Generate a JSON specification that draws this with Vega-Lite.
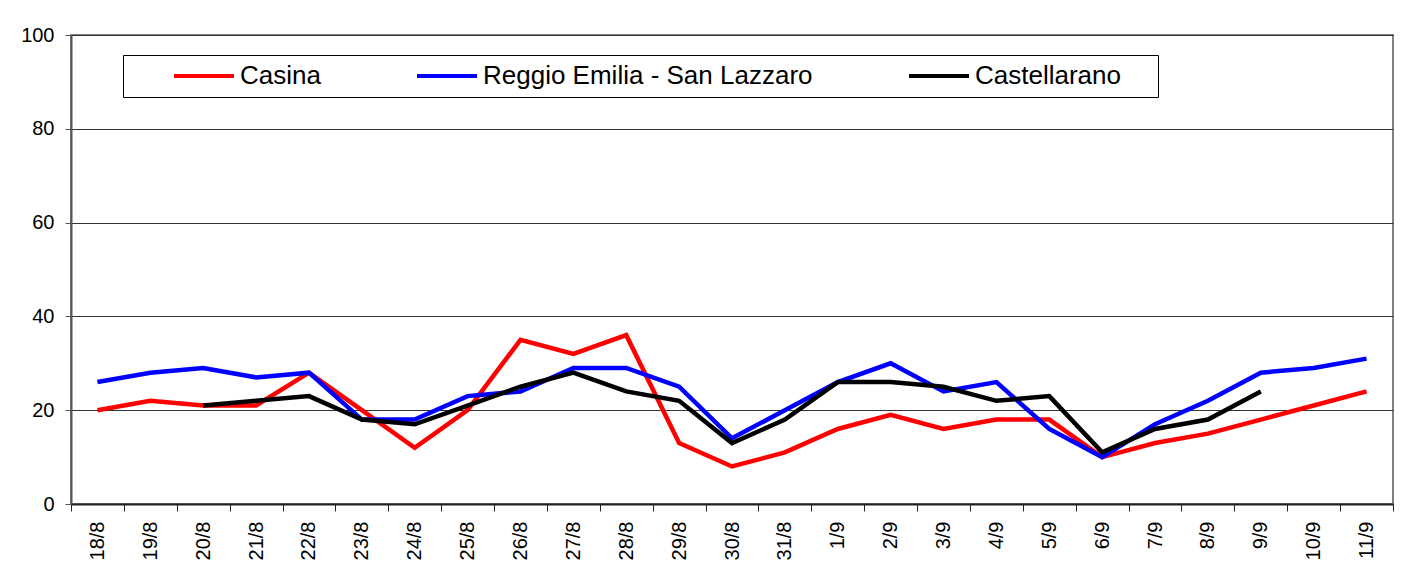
{
  "$schema": "https://vega.github.io/schema/vega-lite/v6.json",
  "autosize": "none",
  "padding": {"left": 71, "top": 35, "right": 17, "bottom": 71},
  "width": 1322,
  "height": 469,
  "background": "white",
  "config": {
    "font": "Liberation Sans",
    "view": {"stroke": "#808080", "strokeWidth": 2}
  },
  "data": {
    "values": [
      {"d": "18/8", "s": "Casina", "v": 20}, {"d": "19/8", "s": "Casina", "v": 22}, {"d": "20/8", "s": "Casina", "v": 21}, {"d": "21/8", "s": "Casina", "v": 21}, {"d": "22/8", "s": "Casina", "v": 28}, {"d": "23/8", "s": "Casina", "v": 20}, {"d": "24/8", "s": "Casina", "v": 12}, {"d": "25/8", "s": "Casina", "v": 20}, {"d": "26/8", "s": "Casina", "v": 35}, {"d": "27/8", "s": "Casina", "v": 32}, {"d": "28/8", "s": "Casina", "v": 36}, {"d": "29/8", "s": "Casina", "v": 13}, {"d": "30/8", "s": "Casina", "v": 8}, {"d": "31/8", "s": "Casina", "v": 11}, {"d": "1/9", "s": "Casina", "v": 16}, {"d": "2/9", "s": "Casina", "v": 19}, {"d": "3/9", "s": "Casina", "v": 16}, {"d": "4/9", "s": "Casina", "v": 18}, {"d": "5/9", "s": "Casina", "v": 18}, {"d": "6/9", "s": "Casina", "v": 10}, {"d": "7/9", "s": "Casina", "v": 13}, {"d": "8/9", "s": "Casina", "v": 15}, {"d": "9/9", "s": "Casina", "v": 18}, {"d": "10/9", "s": "Casina", "v": 21}, {"d": "11/9", "s": "Casina", "v": 24},
      {"d": "18/8", "s": "Reggio Emilia - San Lazzaro", "v": 26}, {"d": "19/8", "s": "Reggio Emilia - San Lazzaro", "v": 28}, {"d": "20/8", "s": "Reggio Emilia - San Lazzaro", "v": 29}, {"d": "21/8", "s": "Reggio Emilia - San Lazzaro", "v": 27}, {"d": "22/8", "s": "Reggio Emilia - San Lazzaro", "v": 28}, {"d": "23/8", "s": "Reggio Emilia - San Lazzaro", "v": 18}, {"d": "24/8", "s": "Reggio Emilia - San Lazzaro", "v": 18}, {"d": "25/8", "s": "Reggio Emilia - San Lazzaro", "v": 23}, {"d": "26/8", "s": "Reggio Emilia - San Lazzaro", "v": 24}, {"d": "27/8", "s": "Reggio Emilia - San Lazzaro", "v": 29}, {"d": "28/8", "s": "Reggio Emilia - San Lazzaro", "v": 29}, {"d": "29/8", "s": "Reggio Emilia - San Lazzaro", "v": 25}, {"d": "30/8", "s": "Reggio Emilia - San Lazzaro", "v": 14}, {"d": "31/8", "s": "Reggio Emilia - San Lazzaro", "v": 20}, {"d": "1/9", "s": "Reggio Emilia - San Lazzaro", "v": 26}, {"d": "2/9", "s": "Reggio Emilia - San Lazzaro", "v": 30}, {"d": "3/9", "s": "Reggio Emilia - San Lazzaro", "v": 24}, {"d": "4/9", "s": "Reggio Emilia - San Lazzaro", "v": 26}, {"d": "5/9", "s": "Reggio Emilia - San Lazzaro", "v": 16}, {"d": "6/9", "s": "Reggio Emilia - San Lazzaro", "v": 10}, {"d": "7/9", "s": "Reggio Emilia - San Lazzaro", "v": 17}, {"d": "8/9", "s": "Reggio Emilia - San Lazzaro", "v": 22}, {"d": "9/9", "s": "Reggio Emilia - San Lazzaro", "v": 28}, {"d": "10/9", "s": "Reggio Emilia - San Lazzaro", "v": 29}, {"d": "11/9", "s": "Reggio Emilia - San Lazzaro", "v": 31},
      {"d": "20/8", "s": "Castellarano", "v": 21}, {"d": "21/8", "s": "Castellarano", "v": 22}, {"d": "22/8", "s": "Castellarano", "v": 23}, {"d": "23/8", "s": "Castellarano", "v": 18}, {"d": "24/8", "s": "Castellarano", "v": 17}, {"d": "25/8", "s": "Castellarano", "v": 21}, {"d": "26/8", "s": "Castellarano", "v": 25}, {"d": "27/8", "s": "Castellarano", "v": 28}, {"d": "28/8", "s": "Castellarano", "v": 24}, {"d": "29/8", "s": "Castellarano", "v": 22}, {"d": "30/8", "s": "Castellarano", "v": 13}, {"d": "31/8", "s": "Castellarano", "v": 18}, {"d": "1/9", "s": "Castellarano", "v": 26}, {"d": "2/9", "s": "Castellarano", "v": 26}, {"d": "3/9", "s": "Castellarano", "v": 25}, {"d": "4/9", "s": "Castellarano", "v": 22}, {"d": "5/9", "s": "Castellarano", "v": 23}, {"d": "6/9", "s": "Castellarano", "v": 11}, {"d": "7/9", "s": "Castellarano", "v": 16}, {"d": "8/9", "s": "Castellarano", "v": 18}, {"d": "9/9", "s": "Castellarano", "v": 24}
    ]
  },
  "mark": {"type": "line", "strokeWidth": 4.5, "strokeJoin": "miter"},
  "encoding": {
    "x": {
      "field": "d",
      "type": "ordinal",
      "sort": ["18/8","19/8","20/8","21/8","22/8","23/8","24/8","25/8","26/8","27/8","28/8","29/8","30/8","31/8","1/9","2/9","3/9","4/9","5/9","6/9","7/9","8/9","9/9","10/9","11/9"],
      "scale": {"type": "band", "paddingInner": 0, "paddingOuter": 0},
      "axis": {
        "title": null,
        "labelAngle": 270,
        "labelFontSize": 20,
        "labelColor": "black",
        "labelPadding": 10,
        "tickBand": "extent",
        "tickSize": 7,
        "tickColor": "#222",
        "domainColor": "#222",
        "domainWidth": 2,
        "grid": false
      }
    },
    "y": {
      "field": "v",
      "type": "quantitative",
      "scale": {"domain": [0, 100]},
      "axis": {
        "title": null,
        "values": [0, 20, 40, 60, 80, 100],
        "labelFontSize": 20,
        "labelColor": "black",
        "labelPadding": 11,
        "tickSize": 6,
        "tickColor": "#555",
        "domainColor": "#555",
        "domainWidth": 2,
        "grid": true,
        "gridColor": "#333",
        "gridWidth": 1
      }
    },
    "color": {
      "field": "s",
      "type": "nominal",
      "scale": {"domain": ["Casina", "Reggio Emilia - San Lazzaro", "Castellarano"], "range": ["#ff0000", "#0000ff", "#000000"]},
      "legend": {
        "title": null,
        "orient": "none",
        "legendX": 52,
        "legendY": 20,
        "direction": "horizontal",
        "columns": 3,
        "columnPadding": 53,
        "padding": 8,
        "symbolOffset": 60,
        "fillColor": "white",
        "strokeColor": "black",
        "symbolType": "M-3,0H3",
        "symbolSize": 400,
        "symbolStrokeWidth": 4,
        "labelFontSize": 26,
        "labelColor": "black",
        "labelOffset": 23,
        "labelLimit": 500,
        "labelExpr": "datum.label == 'Castellarano' ? datum.label + '\u00a0\u00a0\u00a0\u00a0\u200b' : datum.label"
      }
    }
  }
}
